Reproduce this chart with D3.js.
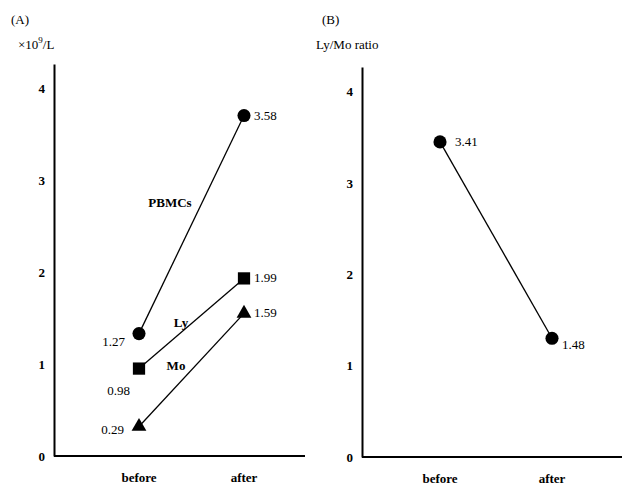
<!DOCTYPE html>
<html>
<head>
<meta charset="utf-8">
<script src="https://cdn.jsdelivr.net/npm/d3@7"></script>
<style>
  body { margin: 0; background: #fff; }
  svg { display: block; font-family: "Liberation Serif", "DejaVu Serif", serif; }
</style>
</head>
<body>
<svg width="622" height="486"></svg>
<script>
// categories
var phases = ['before', 'after'];
var yTicks = [0, 1, 2, 3, 4];

// panel A (positions as drawn, labels as printed)
var pbmc = [1.33, 3.70], pbmcLab = ['1.27', '3.58'];
var ly = [0.95, 1.93],   lyLab = ['0.98', '1.99'];
var mo = [0.32, 1.55],   moLab = ['0.29', '1.59'];

// panel B
var ratio = [3.45, 1.30], ratioLab = ['3.41', '1.48'];

var svg = d3.select('svg');

function panel(o) {
  var g = svg.append('g');
  var y = d3.scaleLinear().domain([0, o.top]).range([o.y0, o.y1]);
  var x = d3.scalePoint().domain(phases).range(o.xr);

  // y axis
  g.append('g')
    .attr('transform', 'translate(' + o.x0 + ',0)')
    .call(d3.axisLeft(y).tickValues(yTicks).tickSize(0).tickPadding(9).tickFormat(d3.format('d')))
    .call(function(a) {
      a.select('.domain').attr('stroke', '#000').attr('stroke-width', 2);
      a.selectAll('text').attr('font-size', 13).attr('font-weight', 'bold').attr('fill', '#000')
        .attr('font-family', 'Liberation Serif');
    });

  // x axis
  g.append('line')
    .attr('x1', o.x0).attr('x2', o.xEnd)
    .attr('y1', y(0)).attr('y2', y(0))
    .attr('stroke', '#000').attr('stroke-width', 2);

  g.selectAll('.cat')
    .data(phases)
    .enter()
    .append('text')
    .attr('x', function(d) { return x(d); })
    .attr('y', y(0) + 26)
    .attr('text-anchor', 'middle')
    .attr('font-size', 13)
    .attr('font-weight', 'bold')
    .text(function(d) { return d; });

  g.append('text').attr('x', o.tx).attr('y', 24).attr('font-size', 13).text(o.tag);
  g.append('text').attr('x', o.ux).attr('y', 49).attr('font-size', 13).html(o.unit);

  return { g: g, x: x, y: y };
}

var A = panel({ x0: 54, xEnd: 305, xr: [139, 244], y0: 456, y1: 64, top: 4.26,
  tx: 11, tag: '(A)', ux: 18, unit: '×10<tspan dy="-6" font-size="9">9</tspan><tspan dy="6">/L</tspan>' });
var B = panel({ x0: 362, xEnd: 622, xr: [440, 552], y0: 457, y1: 67, top: 4.27,
  tx: 322, tag: '(B)', ux: 316, unit: 'Ly/Mo ratio' });

function series(p, vals, labs, shape, labPos) {
  var pts = phases.map(function(d, i) { return [p.x(d), p.y(vals[i])]; });
  p.g.append('path')
    .attr('d', d3.line()(pts))
    .attr('fill', 'none')
    .attr('stroke', '#000')
    .attr('stroke-width', 1.3);

  p.g.selectAll(null)
    .data(pts)
    .enter()
    .append('path')
    .attr('transform', function(d) { return 'translate(' + d[0] + ',' + d[1] + ')'; })
    .attr('d', d3.symbol().type(shape.type).size(shape.size))
    .attr('fill', '#000');

  p.g.selectAll(null)
    .data(pts)
    .enter()
    .append('text')
    .attr('x', function(d, i) { return d[0] + labPos[i][0]; })
    .attr('y', function(d, i) { return d[1] + labPos[i][1]; })
    .attr('text-anchor', function(d, i) { return labPos[i][2]; })
    .attr('font-size', 13)
    .text(function(d, i) { return labs[i]; });
}

var circle = { type: d3.symbolCircle, size: 135 };
var square = { type: d3.symbolSquare, size: 150 };
var tri = { type: d3.symbolTriangle, size: 95 };

series(A, pbmc, pbmcLab, circle, [[-14, 12, 'end'], [10, 4, 'start']]);
series(A, ly, lyLab, square, [[-9, 26, 'end'], [10, 4, 'start']]);
series(A, mo, moLab, tri, [[-15, 7, 'end'], [10, 4, 'start']]);
series(B, ratio, ratioLab, circle, [[15, 4, 'start'], [10, 11, 'start']]);

// series names
var names = [['PBMCs', 2.75, 170], ['Ly', 1.45, 181], ['Mo', 0.98, 176]];
A.g.selectAll('.name')
  .data(names)
  .enter()
  .append('text')
  .attr('x', function(d) { return d[2]; })
  .attr('y', function(d) { return A.y(d[1]) + 4; })
  .attr('text-anchor', 'middle')
  .attr('font-size', 13)
  .attr('font-weight', 'bold')
  .text(function(d) { return d[0]; });
</script>
</body>
</html>
